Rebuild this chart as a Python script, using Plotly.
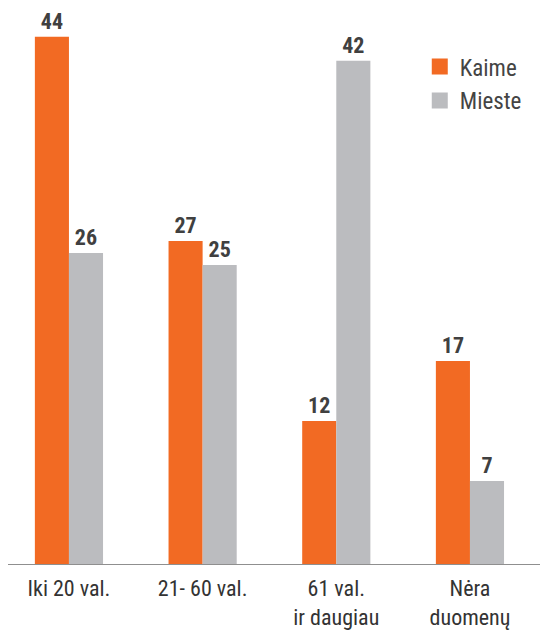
import plotly.graph_objects as go

categories = ["Iki 20 val.", "21- 60 val.", "61 val.<br>ir daugiau", "Nėra<br>duomenų"]
series_names = ["Kaime", "Mieste"]
kaime = [44, 27, 12, 17]
mieste = [26, 25, 42, 7]

ORANGE = "#F26A23"
GRAY = "#BBBCBF"
FONT = "Roboto Condensed, Liberation Sans Narrow, Roboto, Arial, sans-serif"
TXT = "#404040"

fig = go.Figure()
for name, vals, col in [(series_names[0], kaime, ORANGE), (series_names[1], mieste, GRAY)]:
    fig.add_trace(go.Bar(
        name=name, x=categories, y=vals, marker_color=col, marker_line_width=0,
        text=vals, textposition="outside", cliponaxis=False, showlegend=False,
        textfont=dict(family=FONT, size=22, color=TXT, weight="bold"),
        legendgroup=name,
    ))
# legend entries with larger square swatches
for name, col in [(series_names[0], ORANGE), (series_names[1], GRAY)]:
    fig.add_trace(go.Scatter(
        name=name, x=[None], y=[None], mode="markers", legendgroup=name,
        marker=dict(symbol="square", size=16, color=col),
    ))

fig.update_layout(
    width=540, height=622,
    margin=dict(l=0, r=8, t=12, b=63),
    barmode="group", bargap=0.49, bargroupgap=0,
    plot_bgcolor="white", paper_bgcolor="white",
    font=dict(family=FONT, color=TXT),
    showlegend=True,
    legend=dict(
        x=0.774, y=0.954, xanchor="left", yanchor="top",
        font=dict(family=FONT, size=23, color="#444444"),
        bgcolor="rgba(0,0,0,0)", itemwidth=30, tracegroupgap=1,
        itemsizing="trace",
    ),
    xaxis=dict(showline=False, showgrid=False, ticks="", range=[-0.456, 3.524],
               ticklabelstandoff=8,
               tickfont=dict(family=FONT, size=22, color="#333333")),
    yaxis=dict(visible=False, range=[0, 45.4], showgrid=False, zeroline=False),
    shapes=[dict(type="line", xref="paper", yref="y", x0=0, x1=1.016,
                 y0=0, y1=0, line=dict(color="#8f8f8f", width=2))],
)

fig.write_html("out.html")
